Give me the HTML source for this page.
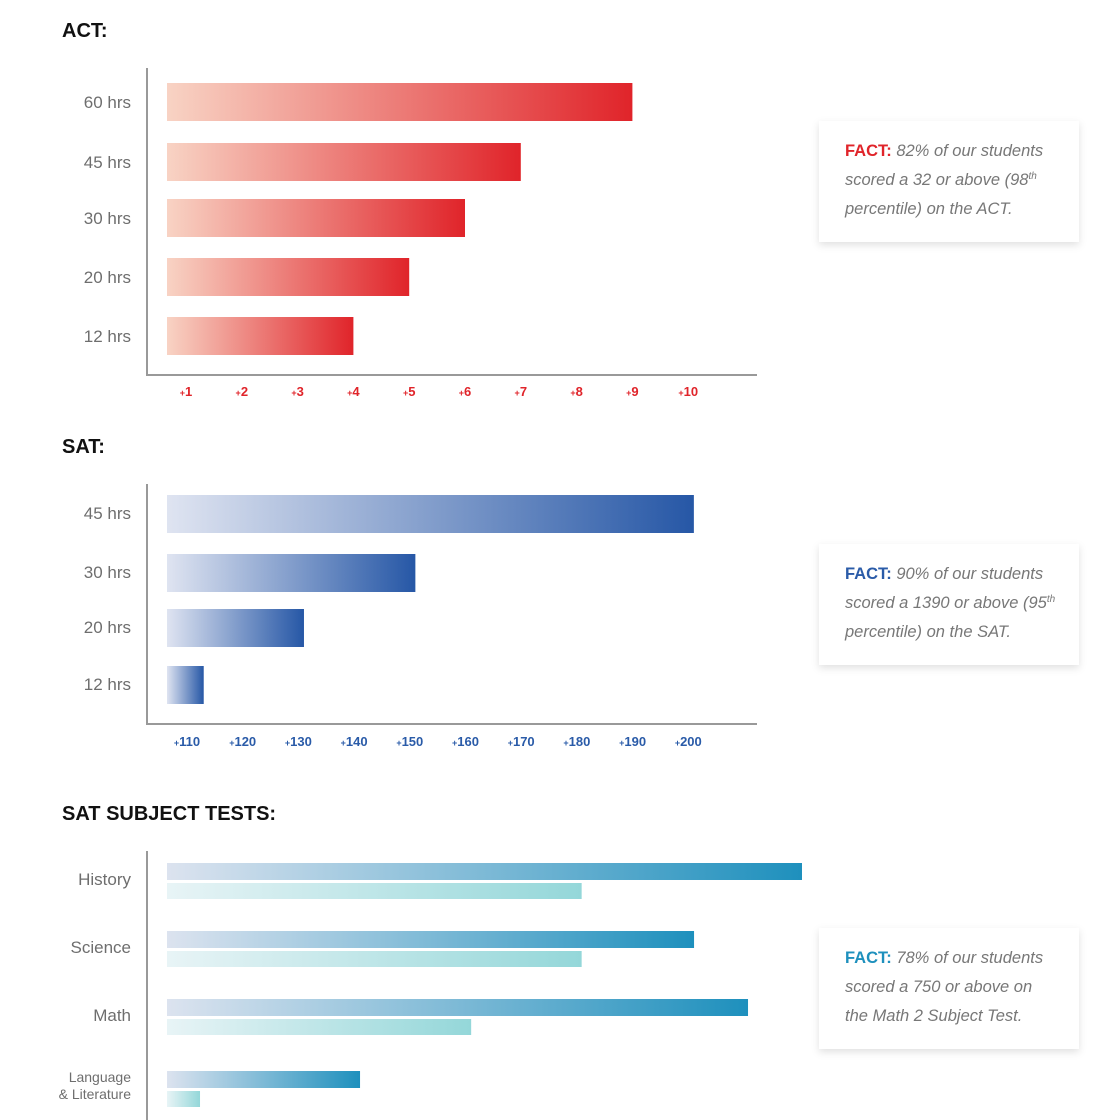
<!DOCTYPE html>
<html><head><meta charset="utf-8"><style>
body{margin:0;background:#fff;width:1120px;height:1120px;overflow:hidden;font-family:"Liberation Sans",sans-serif}
svg{display:block}
</style></head><body>
<svg id="c" width="1120" height="1120" xmlns="http://www.w3.org/2000/svg">
<defs>
<linearGradient id="gRed" x1="0" x2="1"><stop offset="0" stop-color="#f8d3c4"/><stop offset="1" stop-color="#e0242a"/></linearGradient>
<linearGradient id="gBlue" x1="0" x2="1"><stop offset="0" stop-color="#dfe4f1"/><stop offset="1" stop-color="#2657a6"/></linearGradient>
<linearGradient id="gTeal" x1="0" x2="1"><stop offset="0" stop-color="#dce3ef"/><stop offset="1" stop-color="#1e90bd"/></linearGradient>
<linearGradient id="gAqua" x1="0" x2="1"><stop offset="0" stop-color="#e8f4f6"/><stop offset="1" stop-color="#94d7d9"/></linearGradient>
<filter id="sh" x="-10%" y="-10%" width="130%" height="140%"><feDropShadow dx="0" dy="3" stdDeviation="4" flood-color="#000" flood-opacity="0.12"/></filter>
</defs>
</svg>
<script>
const actCats=["60 hrs","45 hrs","30 hrs","20 hrs","12 hrs"];
const actVals=[9,7,6,5,4];
const actTicks=[1,2,3,4,5,6,7,8,9,10];
const satCats=["45 hrs","30 hrs","20 hrs","12 hrs"];
const satVals=[201,151,131,113];
const satTicks=[110,120,130,140,150,160,170,180,190,200];
const subjCats=["History","Science","Math","Language|& Literature"];
const subjA=[100,83,91.5,30.4];
const subjB=[65.3,65.3,47.9,5.2];

const svg=document.getElementById('c');
const NS='http://www.w3.org/2000/svg';
function mk(tag,at,txt){const e=document.createElementNS(NS,tag);for(const k in at)e.setAttribute(k,at[k]);if(txt!=null)e.textContent=txt;svg.appendChild(e);return e;}

function title(t,y,n){const e=mk('text',{x:62,y:y,'font-size':20,'font-weight':'bold',fill:'#111'},t);

}
function axes(top,bottom,right,n){const a=mk('path',{d:`M147 ${top}V${bottom}`+(right?`H${right}`:''),stroke:'#999','stroke-width':2,fill:'none'});

}
function label(t,y,n,size){const e=mk('text',{x:131,y:y,'font-size':size||17,fill:'#6e6e6e','text-anchor':'end'},t);

}
function bar(x1,y,h,grad,n){const r=mk('rect',{x:167,y:y,width:Math.max(0,x1-167),height:h,fill:`url(#${grad})`});

}
function fact(y,color,lines,n){const g=document.createElementNS(NS,'g');svg.appendChild(g);


const r=document.createElementNS(NS,'rect');r.setAttribute('x',819);r.setAttribute('y',y);r.setAttribute('width',260);r.setAttribute('height',121);r.setAttribute('fill','#fff');r.setAttribute('filter','url(#sh)');g.appendChild(r);
lines.forEach((ln,i)=>{const t=document.createElementNS(NS,'text');t.setAttribute('x',845);t.setAttribute('y',y+35+i*29);t.setAttribute('font-size',16.5);t.setAttribute('fill','#777');t.setAttribute('font-style','italic');t.innerHTML=ln.replace('FACT:',`<tspan fill="${color}" font-style="normal" font-weight="bold">FACT:</tspan>`).replace(/\^(\w+)/,'<tspan font-size="10" dy="-6">$1</tspan>');g.appendChild(t);});}

// ACT
title('ACT:',37,'act-title');
axes(68,375,757,'act-axes');
const ax=v=>130.2+55.8*v;
const actY=[83,143,199,258,317];
actCats.forEach((c,i)=>{label(c,actY[i]+25,'act-label-'+i);bar(ax(actVals[i]),actY[i],38,'gRed','act-bar-'+i);});
actTicks.forEach((t,i)=>{const e=mk('text',{x:ax(t),y:396,'font-size':13,'font-weight':'600',fill:'#e0242a','text-anchor':'middle'});e.innerHTML='<tspan font-size="9">+</tspan>'+t;

});
fact(121,'#e0242a',['FACT: 82% of our students','scored a 32 or above (98^th','percentile) on the ACT.'],'act-fact-box');

// SAT
title('SAT:',453,'sat-title');
axes(484,724,757,'sat-axes');
const sx=v=>187+(v-110)*5.57;
const satY=[495,554,609,666];
satCats.forEach((c,i)=>{label(c,satY[i]+24,'sat-label-'+i);bar(sx(satVals[i]),satY[i],38,'gBlue','sat-bar-'+i);});
satTicks.forEach(t=>{const e=mk('text',{x:sx(t),y:746,'font-size':13,'font-weight':'600',fill:'#2a5ba8','text-anchor':'middle'});e.innerHTML='<tspan font-size="9">+</tspan>'+t;

});
fact(544,'#2a5ba8',['FACT: 90% of our students','scored a 1390 or above (95^th','percentile) on the SAT.'],'sat-fact-box');

// Subject tests
title('SAT SUBJECT TESTS:',820,'subject-title');
axes(851,1120,null,'subject-axis');
const ux=v=>167+v*6.35;
const subjY=[863,931,999,1071];
subjCats.forEach((c,i)=>{
 const parts=c.split('|');
 if(parts.length>1){label(parts[0],subjY[i]+11,'subject-label-'+i,14);label(parts[1],subjY[i]+28,'subject-label-'+i+'-b',14);}
 else label(c,subjY[i]+22,'subject-label-'+i);
 bar(ux(subjA[i]),subjY[i],17,'gTeal','subject-bar-a-'+i);
 bar(ux(subjB[i]),subjY[i]+20,16,'gAqua','subject-bar-b-'+i);
});
fact(928,'#1e90bd',['FACT: 78% of our students','scored a 750 or above on','the Math 2 Subject Test.'],'subject-fact-box');
</script>
</body></html>
